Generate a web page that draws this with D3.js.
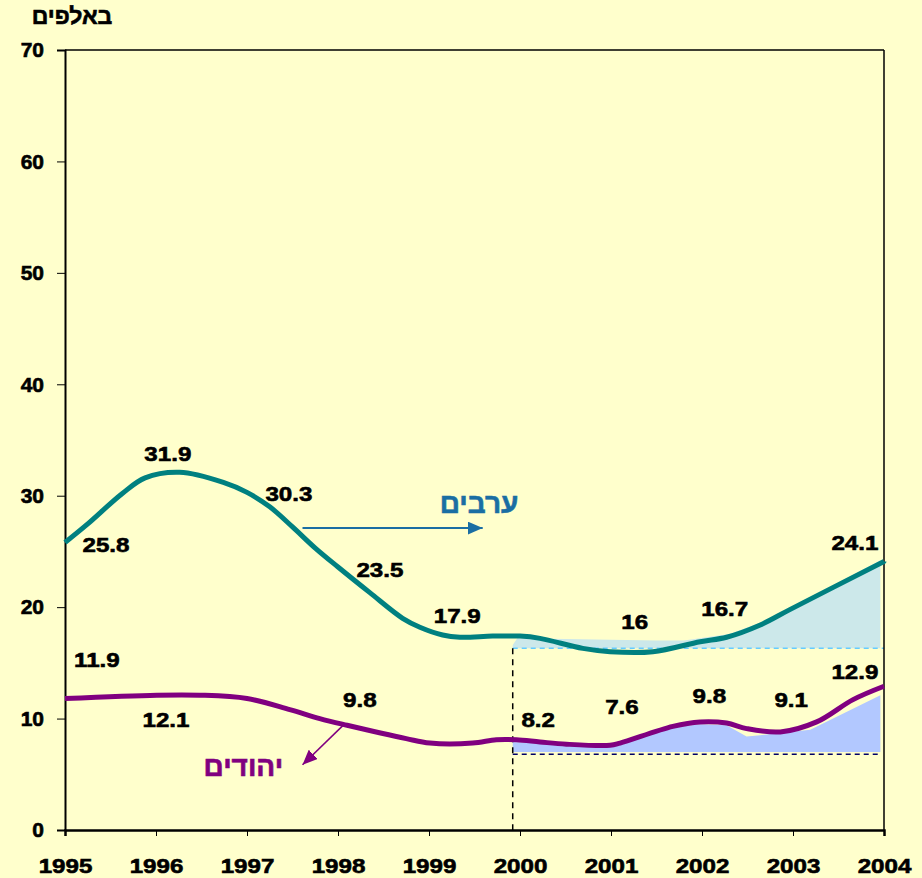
<!DOCTYPE html>
<html>
<head>
<meta charset="utf-8">
<script src="https://cdn.jsdelivr.net/npm/d3@7"></script>
<style>
  body { margin: 0; background: #FFFFCC; }
  svg { display: block; font-family: "Liberation Sans", Arial, sans-serif; }
</style>
</head>
<body>
<div class="container"></div>
<script>
// years on the x axis and y ticks
var years = [1995, 1996, 1997, 1998, 1999, 2000, 2001, 2002, 2003, 2004];
var yTicks = [0, 10, 20, 30, 40, 50, 60, 70];

// traced line for arabs (ערבים), in thousands
var arabX = [1995.00, 1995.24, 1995.63, 1995.88, 1996.26, 1996.74, 1997.00, 1997.25, 1997.50, 1997.75,
             1998.00, 1998.35, 1998.71, 1998.90, 1999.15, 1999.34, 1999.70, 2000.00, 2000.22, 2000.69,
             2000.99, 2001.46, 2001.98, 2002.27, 2002.64, 2002.97, 2004.00];
var arabY = [25.8, 27.4, 30.2, 31.6, 32.1, 31.2, 30.3, 29.0, 27.2, 25.3,
             23.6, 21.3, 19.0, 18.2, 17.5, 17.3, 17.4, 17.4, 17.2, 16.3,
             16.0, 16.0, 16.9, 17.3, 18.4, 19.8, 24.1];

// traced line for jews (יהודים)
var jewX = [1995.00, 1996.01, 1996.48, 1997.00, 1997.47, 1997.80, 1998.10, 1998.75, 1999.01, 1999.48,
            1999.74, 1999.96, 2000.22, 2000.51, 2000.99, 2001.10, 2001.68, 2001.98, 2002.27, 2002.49,
            2002.86, 2003.26, 2003.66, 2004.00];
var jewY = [11.8, 12.1, 12.1, 11.8, 10.8, 10.0, 9.4, 8.2, 7.8, 7.8,
            8.1, 8.1, 7.9, 7.7, 7.6, 7.8, 9.3, 9.7, 9.6, 9.1,
            8.8, 9.7, 11.7, 12.9];

// shaded areas from 2000 on
var arabAreaX = [1999.92, 1999.97, 2000.5, 2001.5, 2001.8, 2002.3, 2002.64, 2002.97, 2003.96];
var arabAreaY = [16.6, 17.2, 17.15, 17.0, 17.0, 17.6, 18.6, 19.9, 24.2];
var arabBase = 16.3;

var jewAreaX = [1999.92, 2000.5, 2001.0, 2001.1, 2001.68, 2001.98, 2002.27, 2002.49, 2002.64, 2002.86, 2003.19, 2003.96];
var jewAreaY = [7.9, 7.7, 7.6, 7.7, 9.2, 9.5, 9.4, 8.4, 8.5, 8.7, 9.0, 12.1];
var jewAreaBase = 7.0;
var jewBase = 6.8;
var splitYear = 1999.92;

// value labels
var labelText = ["25.8", "31.9", "30.3", "23.5", "17.9", "16", "16.7", "24.1",
                 "11.9", "12.1", "9.8", "8.2", "7.6", "9.8", "9.1", "12.9"];
var labelX = [1995.45, 1996.13, 1997.46, 1998.46, 1999.31, 2001.26, 2002.25, 2003.68,
              1995.35, 1996.11, 1998.24, 2000.20, 2001.12, 2002.08, 2002.98, 2003.68];
var labelY = [25.6, 33.8, 30.2, 23.4, 19.3, 18.7, 19.9, 25.85,
              15.3, 9.9, 11.7, 9.9, 11.05, 12.1, 11.7, 14.2];

var svgWidth = 922;
var svgHeight = 878;
var margin = { top: 50, right: 38, bottom: 48, left: 65 };
var width = svgWidth - margin.left - margin.right;
var height = svgHeight - margin.top - margin.bottom;

var svg = d3.select(".container")
    .append("svg")
    .attr("width", svgWidth)
    .attr("height", svgHeight);

svg.append("rect")
    .attr("width", svgWidth)
    .attr("height", svgHeight)
    .attr("fill", "#FFFFCC");

var chart = svg.append("g")
    .attr("transform", `translate(${margin.left}, ${margin.top})`);

var x = d3.scaleLinear().domain([1995, 2004]).range([0, width]);
var y = d3.scaleLinear().domain([0, 70]).range([height, 0]);

function pts(xs, ys) {
    return xs.map((d, i) => [d, ys[i]]);
}

// bold text a bit heavier, like the original
function heavy(sel, color) {
    sel.attr("font-weight", "bold")
        .attr("fill", color)
        .attr("stroke", color)
        .attr("stroke-width", 0.6);
}

// shaded areas
var area = d3.area()
    .x(d => x(d[0]))
    .y1(d => y(d[1]))
    .curve(d3.curveLinear);

chart.append("path")
    .datum(pts(arabAreaX, arabAreaY))
    .attr("d", area.y0(y(arabBase)))
    .attr("fill", "#CCE8EA");

chart.append("path")
    .datum(pts(jewAreaX, jewAreaY))
    .attr("d", area.y0(y(jewAreaBase)))
    .attr("fill", "#B2C8FF");

// dashed guides
chart.append("line")
    .attr("x1", x(splitYear)).attr("x2", x(2004))
    .attr("y1", y(arabBase)).attr("y2", y(arabBase))
    .attr("stroke", "#66CCFF")
    .attr("stroke-width", 1.5)
    .attr("stroke-dasharray", "5,4");

chart.append("line")
    .attr("x1", x(splitYear)).attr("x2", x(2004) - 4)
    .attr("y1", y(jewBase)).attr("y2", y(jewBase))
    .attr("stroke", "#000066")
    .attr("stroke-width", 1.5)
    .attr("stroke-dasharray", "5,4");

chart.append("line")
    .attr("x1", x(splitYear)).attr("x2", x(splitYear))
    .attr("y1", y(arabBase)).attr("y2", y(0))
    .attr("stroke", "#000")
    .attr("stroke-width", 1.5)
    .attr("stroke-dasharray", "6,5");

// axes
var leftAxis = d3.axisLeft(y).tickValues(yTicks).tickSize(8).tickPadding(13);
var bottomAxis = d3.axisBottom(x).tickValues(years).tickFormat(d3.format("d")).tickSize(6).tickPadding(22);

var gy = chart.append("g").call(leftAxis);
gy.select(".domain").attr("stroke-width", 2);
gy.selectAll("text")
    .attr("font-size", 21)
    .call(heavy, "#000");

var gx = chart.append("g")
    .attr("transform", `translate(0, ${height})`)
    .call(bottomAxis);
gx.select(".domain").attr("stroke-width", 2.5);
gx.selectAll("text")
    .attr("font-size", 21)
    .call(heavy, "#000")
    .attr("transform", "scale(1.15,1)");

// frame top and right
chart.append("line")
    .attr("x1", 0).attr("x2", width)
    .attr("y1", 0).attr("y2", 0)
    .attr("stroke", "#000").attr("stroke-width", 1.5);
chart.append("line")
    .attr("x1", width).attr("x2", width)
    .attr("y1", 0).attr("y2", height)
    .attr("stroke", "#000").attr("stroke-width", 1.5);

// lines
var line = d3.line()
    .x(d => x(d[0]))
    .y(d => y(d[1]))
    .curve(d3.curveCatmullRom.alpha(0.5));

chart.append("path")
    .datum(pts(arabX, arabY))
    .attr("d", line)
    .attr("fill", "none")
    .attr("stroke", "#008080")
    .attr("stroke-width", 5)
    .attr("stroke-linejoin", "round");

chart.append("path")
    .datum(pts(jewX, jewY))
    .attr("d", line)
    .attr("fill", "none")
    .attr("stroke", "#800080")
    .attr("stroke-width", 5)
    .attr("stroke-linejoin", "round");

// arrows
var defs = svg.append("defs");
function marker(id, color) {
    defs.append("marker")
        .attr("id", id)
        .attr("viewBox", "0 0 15 13")
        .attr("refX", 15).attr("refY", 6.5)
        .attr("markerWidth", 15).attr("markerHeight", 13)
        .attr("markerUnits", "userSpaceOnUse")
        .attr("orient", "auto")
        .append("path")
        .attr("d", "M0,0 L15,6.5 L0,13 Z")
        .attr("fill", color);
}
marker("arrowBlue", "#1A6EA3");
marker("arrowPurple", "#800080");

chart.append("line")
    .attr("x1", x(1997.61)).attr("y1", y(27.1))
    .attr("x2", x(1999.59)).attr("y2", y(27.1))
    .attr("stroke", "#1A6EA3")
    .attr("stroke-width", 2)
    .attr("marker-end", "url(#arrowBlue)");

chart.append("line")
    .attr("x1", x(1998.07)).attr("y1", y(9.5))
    .attr("x2", x(1997.61)).attr("y2", y(5.85))
    .attr("stroke", "#800080")
    .attr("stroke-width", 1.5)
    .attr("marker-end", "url(#arrowPurple)");

// series names
chart.append("text")
    .attr("x", x(1999.55)).attr("y", y(28.45))
    .attr("text-anchor", "middle")
    .attr("font-size", 28)
    .call(heavy, "#1A6EA3")
    .text("ערבים");

chart.append("text")
    .attr("x", x(1996.96)).attr("y", y(4.85))
    .attr("text-anchor", "middle")
    .attr("font-size", 28)
    .call(heavy, "#800080")
    .text("יהודים");

// value labels
chart.selectAll(".vlabel")
    .data(labelText)
    .enter()
    .append("text")
    .attr("class", "vlabel")
    .attr("transform", (d, i) => `translate(${x(labelX[i])}, ${y(labelY[i])}) scale(1.15,1)`)
    .attr("dy", "0.36em")
    .attr("text-anchor", "middle")
    .attr("font-size", 21)
    .call(heavy, "#000")
    .text(d => d);

// unit title
svg.append("text")
    .attr("x", 72).attr("y", 24)
    .attr("text-anchor", "middle")
    .attr("font-size", 23)
    .call(heavy, "#000")
    .text("באלפים");
</script>
</body>
</html>
